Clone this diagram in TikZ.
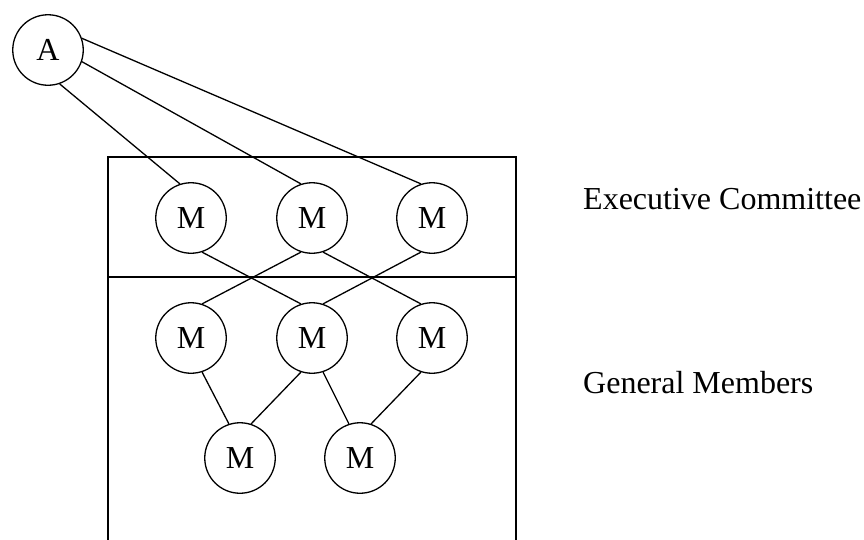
\documentclass[tikz,border=0pt]{standalone}
\usepackage{fontspec}
\setmainfont{Liberation Serif}

\begin{document}
\begin{tikzpicture}[
  x=1pt, y=-1pt,
  font=\fontsize{32}{38}\selectfont,
  member/.style={
    circle,
    draw=black,
    line width=1.3pt,
    minimum size=70.5pt,
    inner sep=0pt
  },
  link/.style={line width=1.3pt, draw=black},
  frame/.style={line width=1.4pt, draw=black}
]
\useasboundingbox (0,0) rectangle (864,539);

% outer box split into the two groups
\draw[frame] (108,545) |- (516,157) -- (516,545);
\draw[frame] (108,277) -- (516,277);

\node[member] (chair) at (48,50) {A};

\node[member] (ec1) at (191,218) {M};
\node[member] (ec2) at (312,218) {M};
\node[member] (ec3) at (432,218) {M};

\node[member] (gm1) at (191,338) {M};
\node[member] (gm2) at (312,338) {M};
\node[member] (gm3) at (432,338) {M};

\node[member] (gm4) at (240,458) {M};
\node[member] (gm5) at (360,458) {M};

% chair to the committee
\draw[link] (chair.-71) -- (ec1.108);
\draw[link] (chair.-19) -- (ec2.108);
\draw[link] (chair.19) -- (ec3.108);

% committee to members
\draw[link] (ec1.-72) -- (gm2.108);
\draw[link] (ec2.-108) -- (gm1.72);
\draw[link] (ec2.-72) -- (gm3.108);
\draw[link] (ec3.-108) -- (gm2.72);

% members to members
\draw[link] (gm1.-72) -- (gm4.108);
\draw[link] (gm2.-108) -- (gm4.72);
\draw[link] (gm2.-72) -- (gm5.108);
\draw[link] (gm3.-108) -- (gm5.72);

\node[anchor=base west, inner sep=0pt] (exec) at (583,209) {Executive Committee};
\node[anchor=base west, inner sep=0pt] (general) at (583,393) {General Members};

\end{tikzpicture}
\end{document}
